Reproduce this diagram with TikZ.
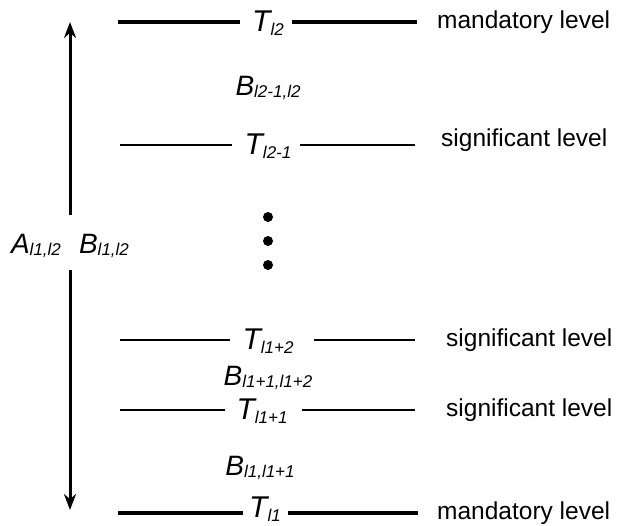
\documentclass[tikz,border=0pt]{standalone}
\usepackage{fontspec}
\setmainfont{Liberation Sans}
\usetikzlibrary{arrows.meta}
\newcommand{\sym}[2]{{\itshape\fontsize{30}{31}\selectfont #1\raisebox{-0.12em}{\fontsize{17}{18}\selectfont #2}}}
\newcommand{\symb}[2]{{\itshape\fontsize{28}{29}\selectfont #1\raisebox{-0.1em}{\fontsize{17}{18}\selectfont #2}}}
\tikzset{
  lvl/.style={font=\fontsize{24.5}{26}\selectfont, anchor=west, inner sep=0pt},
  thickline/.style={line width=4.5pt},
  thinline/.style={line width=2.2pt},
  sym/.style={inner sep=0pt},
  bigarrow/.style={line width=3pt, -{Stealth[length=16pt,width=12pt]}},
  dot/.style={circle, fill, inner sep=0pt, minimum size=10pt}
}
\begin{document}
\begin{tikzpicture}[x=1pt,y=-1pt]
\useasboundingbox (0,0) rectangle (618,525);
% top mandatory
\node[sym] (T2) at (268,23) {\sym{T}{l2}};
\coordinate (a1) at (118,22); \coordinate (a2) at (240,22);
\coordinate (a3) at (292,22); \coordinate (a4) at (417,22);
\draw[thickline] (a1) -- (a2); \draw[thickline] (a3) -- (a4);
\node[lvl] (m1) at (437,22) {mandatory level};
\node[sym] (B1) at (268,88) {\symb{B}{l2-1,l2}};
% l2-1
\node[sym] (T21) at (268,146) {\sym{T}{l2-1}};
\coordinate (b1) at (120,145); \coordinate (b2) at (232,145);
\coordinate (b3) at (300,145); \coordinate (b4) at (415,145);
\draw[thinline] (b1) -- (b2); \draw[thinline] (b3) -- (b4);
\node[lvl] (s1) at (441,140) {significant level};
% dots
\node[dot] (d1) at (268,217) {};
\node[dot] (d2) at (268,241) {};
\node[dot] (d3) at (268,265) {};
% A, B
\node[sym] (A) at (36,246) {\symb{A}{l1,l2}};
\node[sym] (B0) at (104,246) {\symb{B}{l1,l2}};
\coordinate (ar1) at (70,215); \coordinate (ar2) at (70,22);
\coordinate (ar3) at (70,270); \coordinate (ar4) at (70,510);
\draw[bigarrow] (ar1) -- (ar2);
\draw[bigarrow] (ar3) -- (ar4);
% l1+2
\node[sym] (T12) at (268,341) {\sym{T}{l1+2}};
\coordinate (c1) at (120,340); \coordinate (c2) at (230,340);
\coordinate (c3) at (314,340); \coordinate (c4) at (415,340);
\draw[thinline] (c1) -- (c2); \draw[thinline] (c3) -- (c4);
\node[lvl] (s2) at (446,340) {significant level};
\node[sym] (B2) at (268,378) {\symb{B}{l1+1,l1+2}};
% l1+1
\node[sym] (T11) at (262,411) {\sym{T}{l1+1}};
\coordinate (e1) at (120,410); \coordinate (e2) at (225,410);
\coordinate (e3) at (302,410); \coordinate (e4) at (415,410);
\draw[thinline] (e1) -- (e2); \draw[thinline] (e3) -- (e4);
\node[lvl] (s3) at (446,410) {significant level};
\node[sym] (B3) at (260,468) {\symb{B}{l1,l1+1}};
% l1
\node[sym] (T1) at (265,509) {\sym{T}{l1}};
\coordinate (f1) at (118,513); \coordinate (f2) at (243,513);
\coordinate (f3) at (288,513); \coordinate (f4) at (418,513);
\draw[thickline] (f1) -- (f2); \draw[thickline] (f3) -- (f4);
\node[lvl] (m2) at (437,513) {mandatory level};
\end{tikzpicture}
\end{document}
